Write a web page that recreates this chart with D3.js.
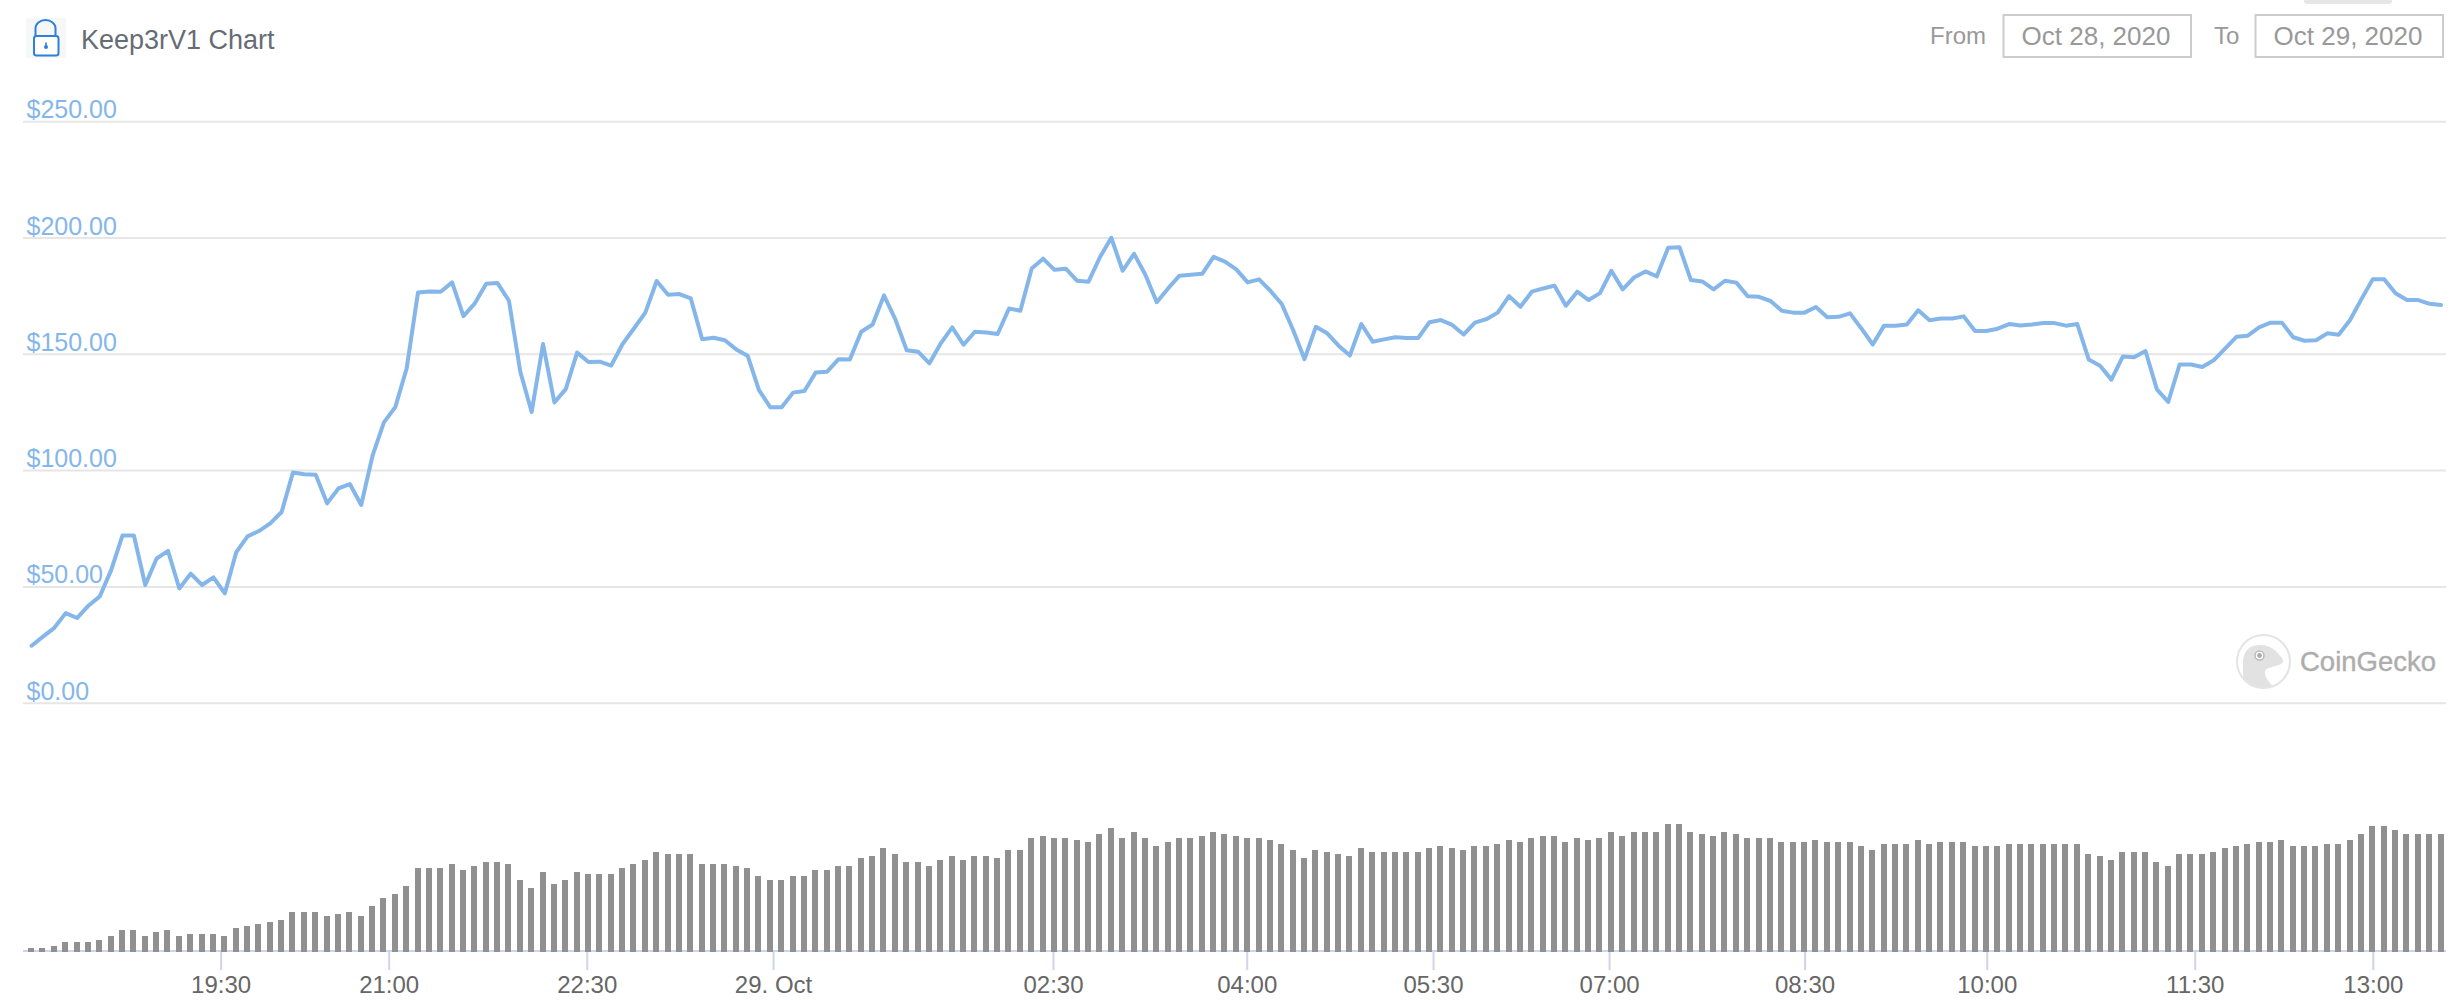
<!DOCTYPE html>
<html>
<head>
<meta charset="utf-8">
<title>Keep3rV1 Chart</title>
<script src="https://cdn.jsdelivr.net/npm/d3@7/dist/d3.min.js"></script>
<style>
html,body{margin:0;padding:0;background:#fff;}
svg{display:block;}
text{font-family:"Liberation Sans",Arial,sans-serif;}
</style>
</head>
<body>
<svg id="chart" width="2462" height="1000"></svg>
<script>
const title = "Keep3rV1 Chart";
const fromDate = "Oct 28, 2020";
const toDate = "Oct 29, 2020";
const brand = "CoinGecko";

const prices = [24.5,28.4,32.2,38.5,36.4,41.7,45.7,57,71.9,71.9,50.6,62,65.3,49.1,55.5,50.6,53.9,47,64.6,71.5,73.8,77.1,82,99,98.2,98,85.7,92.1,94,85,
106.2,120.5,127.1,143.7,176.4,176.8,176.7,180.7,166.2,171.7,180.1,180.4,172.8,142.3,125,154.2,129.1,134.8,150.5,146.5,146.6,144.9,154.2,160.9,167.7,181.3,175.4,175.7,173.8,156.3,
156.9,155.8,151.9,149.2,134.4,127,127,133.3,134,142,142.3,147.7,147.6,159.5,162.6,175.1,164.8,151.5,150.9,145.9,154.5,161.4,153.9,159.5,159.2,158.5,169.5,168.5,186.7,190.9,
186.1,186.6,181.4,181,191.5,199.9,185.7,193,184,172.2,178.1,183.6,184,184.4,191.7,189.6,186.3,180.7,182,177.1,171.4,160.2,147.7,161.6,158.8,153.5,149.3,162.8,155.2,156.2,
157.1,156.8,156.8,163.6,164.5,162.4,158.3,163.4,164.9,167.7,174.8,170.2,176.7,178.1,179.3,170.7,176.7,173.1,176.1,185.7,177.7,182.8,185.4,183.3,195.6,195.8,181.7,181.1,177.7,181.4,
180.6,174.7,174.5,172.7,168.5,167.7,167.7,170.1,165.7,165.9,167.4,160.9,154,162.1,162.1,162.6,168.7,164.4,165.2,165.2,166.1,159.8,159.8,160.8,162.8,162.2,162.6,163.2,163.2,162.1,
162.8,147.6,144.9,138.9,148.8,148.5,151.2,134.7,129.3,145.4,145.4,144.3,147.2,152.2,157.3,157.8,161.4,163.4,163.4,157.1,155.6,155.8,158.8,158.2,164.5,173.5,182.1,182.1,176,173.1,
173.1,171.5,171];

const volumes = [2,2,3,5,5,5,6,8,11,11,8,10,11,8,9,9,9,8,12,13,14,15,16,20,20,20,18,19,20,18,23,27,29,33,42,42,42,44,41,43,45,45,44,36,32,40,34,36,40,39,39,39,
42,44,46,50,49,49,49,44,44,44,43,42,38,36,36,38,38,41,41,43,43,47,48,52,49,45,45,43,46,48,46,48,48,47,51,51,57,58,57,57,56,55,59,62,57,60,57,53,55,57,57,58,60,59,58,
57,57,56,54,51,47,51,50,49,48,52,50,50,50,50,50,52,53,52,51,53,53,54,56,55,57,58,58,55,57,56,57,60,58,60,60,60,64,64,60,59,58,60,59,57,57,57,55,55,55,56,55,55,55,
53,51,54,54,54,56,54,55,55,55,53,53,53,54,54,54,54,54,54,54,49,48,46,50,50,50,45,43,49,49,49,50,52,53,54,55,55,56,53,53,53,54,54,56,59,63,63,61,59,59,59,59];

const priceTicks = [0,50,100,150,200,250];
const timeTickLabels = ["19:30","21:00","22:30","29. Oct","02:30","04:00","05:30","07:00","08:30","10:00","11:30","13:00"];
const timeTickIndex = [16.63,31.42,48.85,65.24,89.87,106.92,123.31,138.8,156.0,172.03,190.33,206.0];

const svg = d3.select("#chart");
const left = 23, right = 2446;

const x = d3.scaleLinear().domain([0, prices.length - 1]).range([31.6, 2441]);
const y = d3.scaleLinear().domain([0, 250]).range([702.7, 121.2]);
const yVol = d3.scaleLinear().domain([0, 100]).range([952, 752]);

/* header */
svg.append("rect").attr("x",2304).attr("y",-6).attr("width",88).attr("height",10).attr("rx",3).attr("fill","#e6e6e6");
const icon = svg.append("g");
icon.append("rect").attr("x",26).attr("y",18).attr("width",40).attr("height",40).attr("fill","#f6f7f7");
icon.append("path").attr("d","M35.5 36V28.5a10 8.5 0 0 1 20 0V36").attr("fill","none").attr("stroke","#2f7fdc").attr("stroke-width",2);
icon.append("rect").attr("x",34).attr("y",36).attr("width",24.5).attr("height",19.5).attr("rx",2.5).attr("fill","#fff").attr("stroke","#2f7fdc").attr("stroke-width",2);
icon.append("circle").attr("cx",46).attr("cy",47).attr("r",2).attr("fill","#2f7fdc");
icon.append("rect").attr("x",45.2).attr("y",42.5).attr("width",1.6).attr("height",4).attr("fill","#2f7fdc");

svg.append("text").attr("x",81).attr("y",48.5).attr("font-size",27).attr("fill","#666c75").text(title);

svg.append("text").attr("x",1930).attr("y",44).attr("font-size",24).attr("fill","#999").text("From");
svg.append("text").attr("x",2214).attr("y",44).attr("font-size",24).attr("fill","#999").text("To");
[[2003.5,fromDate],[2255.5,toDate]].forEach(([bx,t])=>{
  svg.append("rect").attr("x",bx).attr("y",15).attr("width",187.5).attr("height",42).attr("fill","#fff").attr("stroke","#ccc").attr("stroke-width",2);
  svg.append("text").attr("x",bx+92.5).attr("y",44.5).attr("text-anchor","middle").attr("font-size",26).attr("fill","#999").text(t);
});

/* price grid and labels via axis */
const yAxis = d3.axisRight(y).tickValues(priceTicks).tickSize(right - left)
  .tickFormat(d => "$" + d3.format(".2f")(d));
const gy = svg.append("g").attr("transform",`translate(${left},0)`).call(yAxis);
gy.select(".domain").remove();
gy.selectAll(".tick line").attr("stroke","#e6e6e6").attr("stroke-width",2);
gy.selectAll(".tick text").attr("x",3.5).attr("dy",-3.5).attr("text-anchor","start")
  .attr("font-size",25).attr("fill","#85b6ea").attr("font-family",'"Liberation Sans",Arial,sans-serif');

/* watermark */
const logo = svg.append("g");
const defs = svg.append("defs");
defs.append("clipPath").attr("id","logoClip").append("circle").attr("cx",2263.5).attr("cy",661.5).attr("r",26);
logo.append("circle").attr("cx",2263.5).attr("cy",661.5).attr("r",26.5).attr("fill","#fff").attr("stroke","#e4e4e4").attr("stroke-width",2);
logo.append("path").attr("clip-path","url(#logoClip)").attr("fill","#e2e2e2")
  .attr("d","M2243 690V664C2243 648 2252 645 2261 645C2270 645 2276 650 2282.6 659Q2284 663 2279 665C2272 667 2266 668 2265 671C2264 678 2270 682 2275 690Z");
logo.append("circle").attr("cx",2259.5).attr("cy",655.5).attr("r",4.5).attr("fill","#fff").attr("stroke","#bbb").attr("stroke-width",1.5);
logo.append("circle").attr("cx",2259.5).attr("cy",655.5).attr("r",2.4).attr("fill","#aaa");
svg.append("text").attr("x",2300).attr("y",671).attr("font-size",27.5).attr("fill","#adadad").attr("stroke","#adadad").attr("stroke-width",0.4).text(brand);

/* price line */
const line = d3.line().x((d,i)=>x(i)).y(d=>y(d));
svg.append("path").datum(prices).attr("d",line).attr("fill","none")
  .attr("stroke","#85b6ea").attr("stroke-width",4).attr("stroke-linejoin","round").attr("stroke-linecap","round");

/* time axis */
const xAxis = d3.axisBottom(x).tickValues(timeTickIndex).tickSize(18).tickPadding(6)
  .tickFormat((d,i)=>timeTickLabels[i]);
const gx = svg.append("g").attr("transform","translate(0,952)").call(xAxis);
gx.select(".domain").remove();
gx.selectAll(".tick line").attr("stroke","#ccd6eb").attr("stroke-width",2);
gx.selectAll(".tick text").attr("font-size",24).attr("fill","#666").attr("font-family",'"Liberation Sans",Arial,sans-serif');
svg.append("rect").attr("x",left).attr("y",950).attr("width",right-left).attr("height",2).attr("fill","#ccd6eb");

/* volume bars */
svg.append("g").selectAll("rect").data(volumes).join("rect")
  .attr("x",(d,i)=>Math.round(x(i)-3.5))
  .attr("y",d=>yVol(d))
  .attr("width",6)
  .attr("height",d=>yVol(0)-yVol(d))
  .attr("fill","#909090");
</script>
</body>
</html>
